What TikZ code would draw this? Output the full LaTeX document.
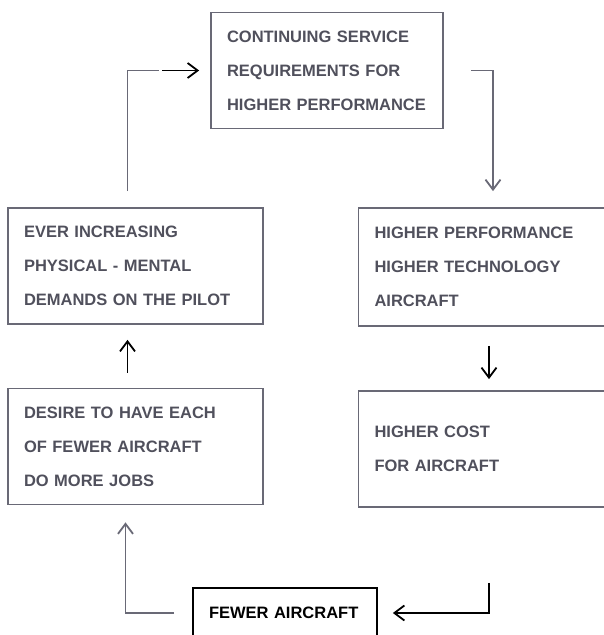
\documentclass[tikz,border=0pt]{standalone}
\usepackage{fontspec}
\setmainfont{Liberation Sans}
\usepackage{tikz}
\usetikzlibrary{arrows.meta, positioning}
\definecolor{scangray}{RGB}{105,105,118}
\definecolor{inkgray}{RGB}{80,80,92}
\tikzstyle{grayline} = [scangray, line width=1.8pt]
\tikzstyle{grayarrow} = [scangray, line width=1.8pt, -{Straight Barb[length=10pt,width=15pt]}]
\tikzstyle{blackarrow} = [black, line width=1.8pt, -{Straight Barb[length=10pt,width=15pt]}]

\begin{document}
\begin{tikzpicture}[
    x=1pt, y=-1pt,
    box/.style={
        rectangle,
        draw=scangray,
        line width=1.8pt,
        text=inkgray,
        align=left,
        text width=#1,
        inner xsep=16pt,
        minimum height=116pt,
        font=\bfseries\fontsize{16.5}{34}\selectfont
    }
]
    \useasboundingbox (0,0) rectangle (604,635);

    \node[box=200pt] (service) at (327,70.5)
        {CONTINUING SERVICE\\REQUIREMENTS FOR\\HIGHER PERFORMANCE};

    \node[box=223pt] (demands) at (135.5,266)
        {EVER INCREASING\\PHYSICAL - MENTAL\\DEMANDS ON THE PILOT};

    \node[box=229pt, minimum height=118pt] (hiperf) at (489,267)
        {HIGHER PERFORMANCE\\HIGHER TECHNOLOGY\\AIRCRAFT};

    \node[box=223pt] (desire) at (135.5,446.5)
        {DESIRE TO HAVE EACH\\OF FEWER AIRCRAFT\\DO MORE JOBS};

    \node[box=229pt] (cost) at (489,449)
        {HIGHER COST\\FOR AIRCRAFT};

    \node[box=152pt, draw=black, text=black, minimum height=50pt] (fewer)
        at (285,613) {FEWER AIRCRAFT};

    % loop back to the top
    \coordinate (upleft) at ([xshift=-48pt]service.west);
    \draw[grayline, shorten <=16pt, shorten >=3pt] ([xshift=-8pt]demands.north) |- (upleft);
    \draw[blackarrow, shorten >=11pt] (upleft) -- (service.west);

    \draw[grayarrow, shorten <=27pt, shorten >=16pt] (service.east) -| ([xshift=4pt]hiperf.north);
    \draw[blackarrow, shorten <=19pt, shorten >=11pt] (hiperf) -- (cost);
    \draw[blackarrow, shorten <=75pt, shorten >=15pt] (cost.south) |- (fewer.east);
    \draw[grayarrow, shorten <=18pt, shorten >=17pt] (fewer.west) -| ([xshift=-10pt]desire.south);
    \draw[blackarrow, shorten <=15pt, shorten >=15pt] ([xshift=-8pt]desire.north) -- ([xshift=-8pt]demands.south);
\end{tikzpicture}
\end{document}
